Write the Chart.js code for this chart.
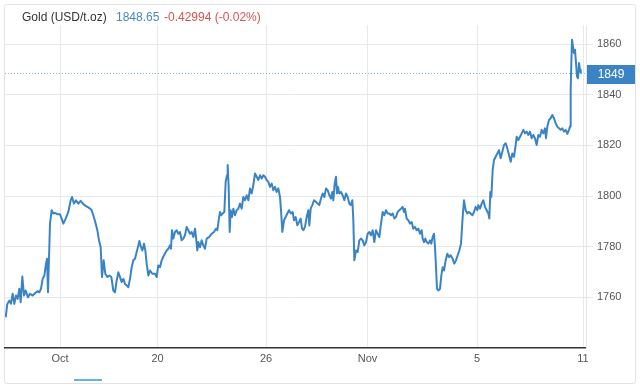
<!DOCTYPE html>
<html><head><meta charset="utf-8">
<script src="https://cdn.jsdelivr.net/npm/chart.js@4"></script>
<style>
html,body{margin:0;padding:0;background:#fff;}
#wrap{position:relative;width:640px;height:390px;overflow:hidden;font-family:"Liberation Sans",Arial,Helvetica,sans-serif;}
#card{position:absolute;left:4px;top:4px;width:630px;height:378px;border:1px solid #e2e2e2;border-radius:3px;background:#fff;}
canvas{position:absolute;left:0;top:0;}
.hd{position:absolute;top:10px;font-size:12px;line-height:14px;white-space:nowrap;}
#nav{position:absolute;left:74px;top:379px;width:28px;height:2px;background:#6ab2e0;}
</style></head>
<body><div id="wrap">
<div id="card"></div>
<canvas id="c" width="640" height="390"></canvas>
<span class="hd" id="hName" style="left:22px;color:#333;">Gold (USD/t.oz)</span>
<span class="hd" id="hPrice" style="left:116px;color:#4a86c0;">1848.65</span>
<span class="hd" id="hChg" style="left:164px;color:#d9534f;">-0.42994 (-0.02%)</span>
<div id="nav"></div>
</div>
<script>
// time in trading hours since start of window
const times = [
0.6,2.1,3.9,5.4,6.9,8.4,9.9,11.4,12.9,14.1,
15.6,17.1,18.6,20.7,22.5,24.9,27.0,29.1,30.9,32.4,
33.9,35.4,36.9,37.8,38.7,40.5,42.0,43.5,45.0,47.1,
49.5,51.0,52.5,54.6,57.0,59.1,60.3,62.1,63.9,66.0,
68.1,70.5,72.9,75.3,77.7,79.5,81.6,83.1,84.6,86.1,
87.3,88.8,90.3,92.1,93.9,
95.7,97.5,99.0,100.5,102.0,103.5,105.0,106.5,108.0,109.5,
111.0,112.5,114.0,115.5,117.0,118.5,120.0,120.9,122.4,123.6,
125.1,126.3,127.5,129.0,130.5,132.6,135.0,136.5,138.0,139.5,
141.0,143.1,145.5,147.0,148.5,149.4,150.3,151.5,153.0,154.5,
156.0,157.5,159.0,160.5,162.0,163.5,165.0,166.5,168.0,169.5,
171.0,171.9,173.1,174.0,175.5,177.0,178.5,180.0,181.5,183.6,
186.0,188.1,189.9,191.1,192.3,193.5,194.7,195.9,197.4,198.6,
199.8,200.4,201.3,202.2,203.1,204.3,205.5,207.0,208.5,210.0,211.5,
213.0,214.5,216.0,217.5,219.0,220.5,222.0,223.5,225.0,
226.5,228.0,229.5,231.0,232.5,234.0,235.5,237.0,238.5,240.0,
241.5,243.0,244.5,246.0,247.5,248.4,249.6,251.1,252.6,254.1,
255.6,257.4,258.9,260.1,261.6,263.1,264.6,266.1,267.3,268.5,
270.0,271.5,273.0,273.9,275.1,276.6,278.1,279.9,281.4,282.9,
284.4,285.9,287.4,288.9,290.4,291.9,293.4,294.6,295.5,296.7,
297.9,298.8,299.7,300.9,302.4,303.9,305.4,306.9,308.4,309.9,
311.1,312.6,313.5,314.4,315.9,317.4,318.9,
320.4,321.9,323.4,324.9,326.4,327.9,329.4,330.9,
332.4,333.9,335.4,336.9,338.4,339.9,341.4,342.9,344.4,345.9,
347.4,348.9,350.4,351.9,353.4,354.9,356.4,357.9,359.1,360.0,
361.5,363.0,364.5,366.0,367.5,369.0,370.5,372.0,373.5,375.0,
375.9,377.1,378.3,379.5,381.0,382.5,383.7,384.9,386.1,387.0,
387.9,388.8,390.0,391.5,392.7,393.9,395.1,396.6,398.1,399.6,
401.1,402.9,404.4,405.9,407.4,408.9,410.4,411.9,413.1,414.6,
416.1,417.6,419.1,420.6,422.1,423.6,425.1,426.0,427.5,429.0,
430.5,432.0,433.5,435.0,435.9,436.8,437.7,438.9,440.1,441.6,
443.1,444.6,446.1,447.6,449.1,450.6,452.1,453.6,455.1,456.6,
458.1,459.6,460.5,462.0,463.5,465.0,466.5,468.0,469.5,471.0,
472.5,474.0,475.5,477.0,478.5,480.0,481.5,483.0,484.5,486.0,
486.9,488.1,489.6,491.1,492.6,494.1,495.6,497.1,498.6,500.1,
501.6,503.1,504.6,506.1,507.6,508.5,509.1,509.7,510.3,511.2,
512.1,513.0,513.9,514.8,515.7,516.6,517.5,518.1
];
const prices = [
1752.1,1757.4,1758.7,1757.5,1761.4,1757.4,1760.7,1759.4,1763.4,1758.1,
1768.2,1760.7,1762.7,1760.0,1761.4,1760.7,1761.6,1762.4,1762.0,1763.4,
1767.3,1768.6,1773.3,1775.2,1762.0,1789.1,1794.4,1793.1,1793.3,1792.8,
1792.8,1791.1,1789.1,1791.1,1793.7,1798.3,1799.6,1797.0,1798.3,1797.0,
1798.1,1796.8,1796.0,1795.4,1794.6,1792.4,1789.1,1786.5,1782.5,1779.8,
1768.0,1774.6,1769.3,1768.0,1768.6,
1768.0,1762.7,1762.0,1766.6,1769.9,1768.0,1766.0,1767.3,1765.3,1764.7,
1764.0,1767.3,1771.9,1774.6,1775.2,1777.9,1780.5,1782.2,1779.8,1778.5,
1781.2,1778.5,1773.3,1768.6,1770.6,1769.3,1769.3,1768.0,1772.6,1771.9,
1774.6,1776.6,1778.5,1779.2,1780.5,1779.2,1786.5,1783.2,1785.8,1786.5,
1785.1,1785.8,1782.5,1783.2,1784.5,1787.8,1786.5,1785.1,1785.8,1783.8,
1787.1,1783.8,1778.5,1781.8,1779.8,1782.5,1780.5,1779.2,1783.2,1783.8,
1785.1,1785.8,1787.1,1786.5,1790.4,1793.7,1792.4,1793.1,1793.7,1805.6,
1808.2,1812.2,1803.6,1785.8,1794.4,1791.7,1795.0,1792.4,1794.4,1795.0,1797.0,
1795.0,1799.6,1798.3,1800.3,1798.3,1803.0,1801.0,1804.3,1808.9,
1807.6,1806.3,1808.2,1806.9,1808.2,1807.6,1806.3,1805.6,1803.6,1804.9,
1802.3,1803.6,1801.6,1803.0,1799.6,1794.4,1785.8,1790.4,1791.7,1793.1,
1794.4,1793.1,1793.7,1790.4,1791.7,1788.4,1789.7,1791.1,1787.1,1786.5,
1787.8,1791.7,1794.4,1788.4,1795.0,1796.4,1798.3,1797.7,1797.0,1796.4,
1799.0,1801.0,1799.6,1803.0,1802.3,1800.3,1799.0,1801.6,1798.3,1804.9,
1807.6,1801.0,1803.6,1801.0,1801.6,1800.3,1798.3,1801.0,1799.6,1797.0,
1796.4,1798.3,1790.4,1774.6,1778.5,1777.9,1782.5,
1783.2,1782.5,1780.5,1781.8,1785.1,1785.8,1784.5,1786.5,
1781.8,1786.5,1785.1,1783.8,1789.1,1793.7,1792.4,1794.4,1793.1,1793.1,
1792.4,1793.1,1791.1,1791.7,1793.7,1794.4,1795.0,1795.7,1793.7,1795.0,
1791.1,1790.4,1789.1,1789.7,1787.1,1787.8,1786.5,1787.1,1785.1,1786.5,
1783.2,1781.8,1783.2,1781.8,1781.2,1782.5,1781.2,1783.8,1785.1,1779.8,
1771.9,1763.4,1762.7,1763.4,1768.6,1771.9,1770.6,1774.6,1777.2,1775.9,
1776.6,1775.2,1773.3,1774.6,1776.6,1778.5,1781.2,1791.7,1798.3,1794.4,
1793.1,1793.7,1793.1,1792.4,1793.7,1795.7,1794.4,1796.4,1795.0,1797.0,
1798.3,1795.7,1794.4,1793.1,1791.1,1801.6,1799.6,1810.2,1814.2,1815.5,
1816.8,1818.1,1814.9,1817.5,1820.1,1820.8,1818.8,1816.2,1813.5,1816.8,
1815.5,1820.1,1823.4,1822.1,1823.4,1824.7,1826.1,1824.7,1825.4,1824.1,
1825.4,1822.8,1824.1,1822.8,1820.1,1824.1,1823.4,1826.1,1824.7,1826.7,
1822.8,1827.4,1830.0,1830.7,1832.0,1830.7,1828.7,1827.4,1826.7,1826.1,
1826.7,1825.4,1826.1,1824.5,1826.1,1827.4,1841.9,1852.5,1861.7,1859.0,
1856.4,1857.7,1852.5,1847.2,1846.5,1852.5,1849.8,1848.65
];
const tickHours = [49.5, 137.3, 234.9, 326.3, 424.8, 520.2];
const tickLabels = ['Oct', '20', '26', 'Nov', '5', '11'];
const yTicks = [1760, 1780, 1800, 1820, 1840, 1860];
const xRange = [0, 522.9];
const yRange = [1740, 1867.5];
const lastPrice = 1848.65;

const n = Math.min(times.length, prices.length);
const points = [];
for (let i = 0; i < n; i++) points.push({x: times[i], y: prices[i]});

const FONT = '"Liberation Sans", Arial, Helvetica, sans-serif';
const LINE = '#3a84c6';

const lastPricePlugin = {
  id: 'lastPrice',
  beforeDatasetsDraw(chart) {
    const {ctx, chartArea: a, scales: {y}} = chart;
    const py = Math.round(y.getPixelForValue(lastPrice)) + 0.5;
    ctx.save();
    ctx.strokeStyle = '#86b4dd';
    ctx.lineWidth = 1;
    ctx.setLineDash([1, 2]);
    ctx.beginPath(); ctx.moveTo(a.left, py); ctx.lineTo(a.right, py); ctx.stroke();
    ctx.restore();
  },
  afterDraw(chart) {
    const {ctx, chartArea: a, scales: {y}} = chart;
    const py = Math.round(y.getPixelForValue(lastPrice)) + 0.5;
    ctx.save();
    ctx.fillStyle = LINE;
    ctx.fillRect(a.right + 1, Math.round(py - 9), 48, 19);
    ctx.fillStyle = '#fff';
    ctx.font = '12px ' + FONT;
    ctx.textAlign = 'center';
    ctx.textBaseline = 'middle';
    ctx.fillText(String(Math.round(lastPrice)), a.right + 25, py + 1);
    ctx.restore();
  }
};

new Chart(document.getElementById('c'), {
  type: 'line',
  data: { datasets: [{
    data: points,
    borderColor: LINE,
    borderWidth: 2,
    pointRadius: 0,
    tension: 0,
    fill: false,
    borderJoinStyle: 'round'
  }]},
  options: {
    responsive: false,
    animation: false,
    devicePixelRatio: 1,
    layout: { padding: { left: 5, right: 4, top: 25, bottom: 22 } },
    plugins: { legend: { display: false }, tooltip: { enabled: false }, title: { display: false } },
    scales: {
      x: {
        type: 'linear',
        min: xRange[0], max: xRange[1],
        afterBuildTicks(scale) { scale.ticks = tickHours.map(v => ({value: v})); },
        afterFit(scale) { scale.height = 20; },
        grid: { color: '#e8e8e8', drawTicks: false },
        border: { display: true, color: '#333', width: 1.5 },
        ticks: {
          autoSkip: false, maxRotation: 0, padding: 4,
          color: '#555', font: { family: FONT, size: 11 },
          callback(v) { const i = tickHours.indexOf(v); return i >= 0 ? tickLabels[i] : ''; }
        }
      },
      y: {
        position: 'right',
        min: yRange[0], max: yRange[1],
        afterBuildTicks(scale) { scale.ticks = yTicks.map(v => ({value: v})); },
        afterFit(scale) { scale.width = 50; },
        grid: { color: '#e8e8e8', drawTicks: true, tickLength: 7 },
        border: { display: true, color: '#e4e4e4' },
        ticks: { padding: 4, color: '#555', font: { family: FONT, size: 11 },
          callback(v) { return String(v); } }
      }
    }
  },
  plugins: [lastPricePlugin]
});
</script>
</body></html>
